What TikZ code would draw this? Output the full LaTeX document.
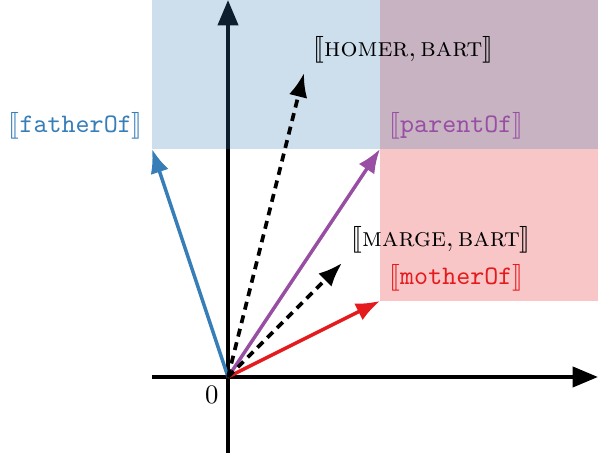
\documentclass[tikz,border=0pt]{standalone}
\usepackage{amsmath,amssymb}
\usepackage{stmaryrd}
\usepackage{tikz}
\usepackage{xcolor}
\usetikzlibrary{arrows.meta}

\definecolor{setblue}{HTML}{377EB8}
\definecolor{setred}{HTML}{E41A1C}
\definecolor{setpurple}{HTML}{984EA3}

\begin{document}
\begin{tikzpicture}[x=1cm,y=1cm,every node/.style={font=\normalsize},
  axis/.style={line width=1.5pt,-{Triangle[length=9.5pt,width=7.5pt]}},
  vec/.style={line width=1.3pt,-{Latex[length=9pt,width=7pt]}},
  pairvec/.style={vec,line width=1.4pt,dash pattern=on 3pt off 2.2pt}]
\useasboundingbox (-3,-1.053) rectangle (4.868,4.96);
% axes
\coordinate (O) at (0,0);
\coordinate (xl) at (-1,0);
\coordinate (xr) at (4.868,0);
\coordinate (yb) at (0,-1);
\coordinate (yt) at (0,4.96);
\draw[axis] (xl) -- (xr);
\draw[axis] (yb) -- (yt);
\node[below left] (zero) at (O) {$0$};
% regions
\fill[setred,opacity=.25] (2,1) rectangle (4.868,4.96);
\fill[setblue,opacity=.25] (-1,3) rectangle (4.868,4.96);
% relation vectors
\coordinate (father) at (-1,3);
\coordinate (parent) at (2,3);
\coordinate (mother) at (2,1);
\draw[vec,setblue] (O) -- (father);
\draw[vec,setpurple] (O) -- (parent);
\draw[vec,setred] (O) -- (mother);
\node[above left,setblue] (fatherlbl) at (father) {$\llbracket$\texttt{fatherOf}$\rrbracket$};
\node[above right,setpurple] (parentlbl) at (parent) {$\llbracket$\texttt{parentOf}$\rrbracket$};
\node[above right,setred] (motherlbl) at (mother) {$\llbracket$\texttt{motherOf}$\rrbracket$};
% entity pairs
\coordinate (homer) at (1,4);
\coordinate (marge) at (1.5,1.5);
\draw[pairvec] (O) -- (homer);
\draw[pairvec] (O) -- (marge);
\node[above right] (homerlbl) at (homer) {$\llbracket\textsc{homer},\textsc{bart}\rrbracket$};
\node[above right] (margelbl) at (marge) {$\llbracket\textsc{marge},\textsc{bart}\rrbracket$};
\end{tikzpicture}
\end{document}
